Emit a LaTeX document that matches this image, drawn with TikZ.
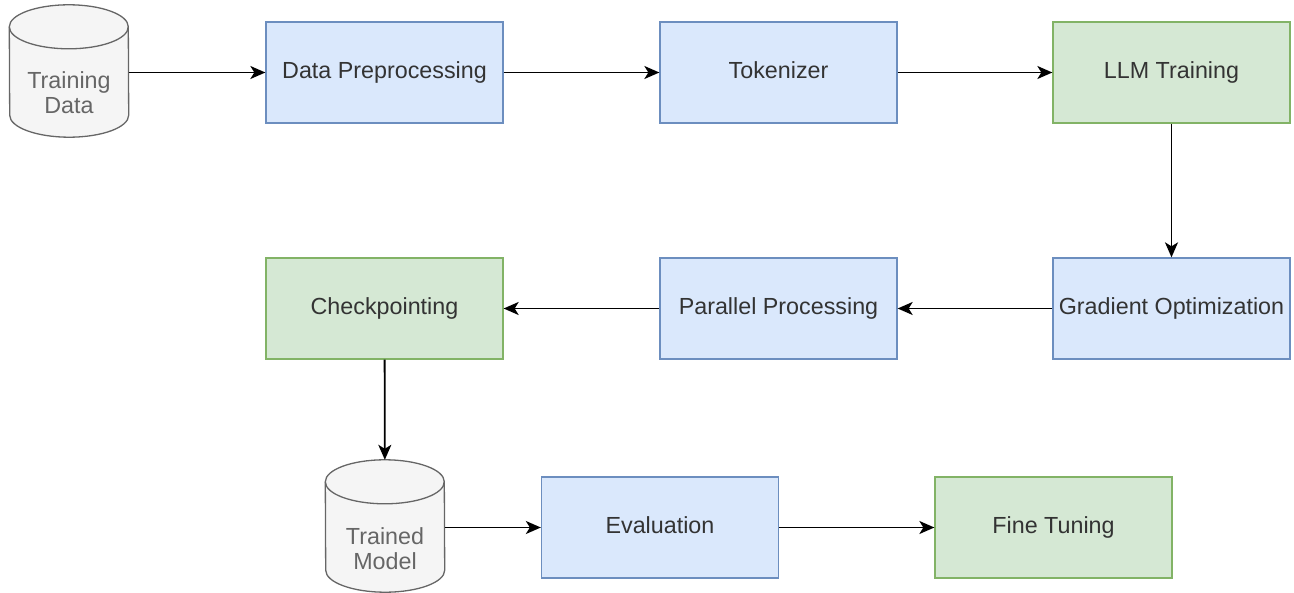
\documentclass[tikz,border=0pt]{standalone}
\usepackage{fontspec}
\setmainfont{Liberation Sans}
\usetikzlibrary{arrows.meta}
\definecolor{blueFill}{HTML}{DAE8FC}
\definecolor{blueLine}{HTML}{6C8EBF}
\definecolor{greenFill}{HTML}{D5E8D4}
\definecolor{greenLine}{HTML}{82B366}
\definecolor{cylFill}{HTML}{F5F5F5}
\definecolor{cylLine}{HTML}{666666}
\definecolor{boxText}{HTML}{333333}
\definecolor{cylText}{HTML}{666666}
\tikzset{
  box/.style={rectangle, minimum width=237pt, minimum height=101pt, inner sep=0pt,
    line width=1.3pt, text=boxText, font=\fontsize{23.3}{28}\selectfont,
    text height=17pt, text depth=5pt},
  bluebox/.style={box, draw=blueLine, fill=blueFill},
  greenbox/.style={box, draw=greenLine, fill=greenFill},
  cylframe/.style={rectangle, minimum width=119pt, minimum height=132pt, inner sep=0pt},
  cyltext/.style={align=center, text=cylText, font=\fontsize{23.3}{25}\selectfont, inner sep=0pt},
  flow/.style={line width=1.8pt, -{Stealth[length=15pt,width=13pt,inset=4pt]}},
}
% draws a drum (cylinder) inside the frame node #1
\newcommand{\drumshape}[1]{%
  \path[fill=cylFill, draw=cylLine, line width=1.3pt]
    ([yshift=-22pt]#1.north west) arc[start angle=180,end angle=0,x radius=59.5pt,y radius=22pt]
    -- ([yshift=22pt]#1.south east) arc[start angle=0,end angle=-180,x radius=59.5pt,y radius=22pt]
    -- cycle;
  \draw[cylLine, line width=1.3pt]
    ([yshift=-22pt]#1.north west) arc[start angle=180,end angle=360,x radius=59.5pt,y radius=22pt];
}
\begin{document}
\begin{tikzpicture}[x=1pt,y=-1pt]
\useasboundingbox (0,0) rectangle (1294,593);

% row 1
\node[cylframe] (tdata) at (69,71) {};
\drumshape{tdata}
\node[cyltext] (tdatalabel) at ([yshift=-22pt]tdata.center) {Training\\Data};
\node[bluebox] (prep) at (384.5,72.5) {Data Preprocessing};
\node[bluebox] (tok) at (778.5,72.5) {Tokenizer};
\node[greenbox] (llm) at (1171.5,72.5) {LLM Training};

% row 2
\node[bluebox] (grad) at (1171.5,308.5) {Gradient Optimization};
\node[bluebox] (par) at (778.5,308.5) {Parallel Processing};
\node[greenbox] (ckpt) at (384.5,308.5) {Checkpointing};

% row 3
\node[cylframe] (tmodel) at (385,526) {};
\drumshape{tmodel}
\node[cyltext] (tmodellabel) at ([yshift=-23pt]tmodel.center) {Trained\\Model};
\node[bluebox] (eval) at (660,527.5) {Evaluation};
\node[greenbox] (fine) at (1053.5,527.5) {Fine Tuning};

% connectors
\draw[flow] (tdata.east |- prep.west) -- (prep.west);
\draw[flow] (prep) -- (tok);
\draw[flow] (tok) -- (llm);
\draw[flow] (llm) -- (grad);
\draw[flow] (grad) -- (par);
\draw[flow] (par) -- (ckpt);
\draw[flow] (ckpt) -- (tmodel);
\draw[flow] (tmodel.east |- eval.west) -- (eval.west);
\draw[flow] (eval) -- (fine);
\end{tikzpicture}
\end{document}
